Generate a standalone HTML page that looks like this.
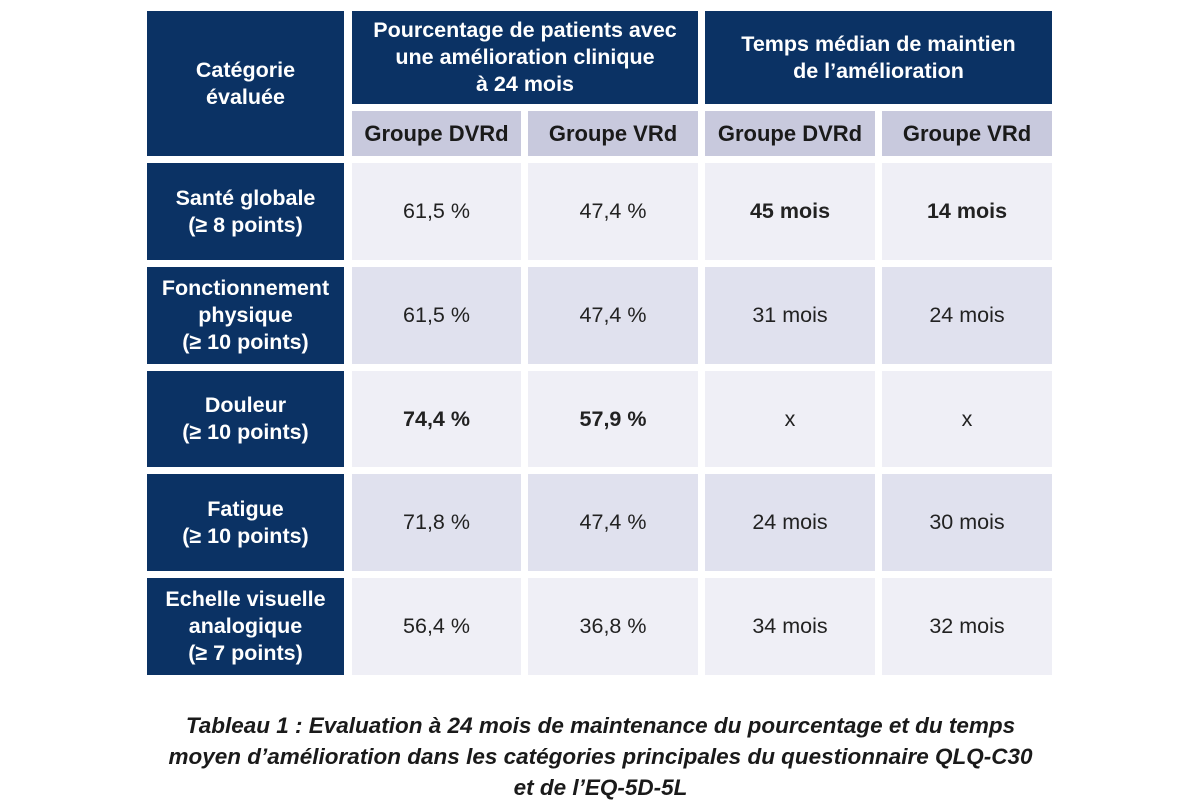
<!DOCTYPE html><html><head><meta charset="utf-8"><style>
body{margin:0;width:1201px;height:812px;background:#fff;position:relative;font-family:"Liberation Sans",sans-serif;overflow:hidden}
.c{position:absolute;display:flex;align-items:center;justify-content:center;text-align:center;box-sizing:border-box}
.d{background:#0b3264;color:#fff;font-weight:bold;font-size:21.5px;line-height:27px}
.s{background:#c8c9dd;color:#1a1a1a;font-weight:bold;font-size:22px}
.l{background:#efeff6;color:#222;font-size:21.5px}
.m{background:#e0e1ee;color:#222;font-size:21.5px}
.b{font-weight:bold}
.cap{position:absolute;left:0;width:1201px;top:710px;text-align:center;font-style:italic;font-weight:bold;font-size:22.5px;line-height:31px;color:#1a1a1a}
</style></head><body>
<div class="c d" style="left:147px;top:11px;width:197px;height:145px">Catégorie<br>évaluée</div>
<div class="c d" style="left:352px;top:11px;width:346px;height:93px">Pourcentage de patients avec<br>une amélioration clinique<br>à 24 mois</div>
<div class="c d" style="left:705px;top:11px;width:347px;height:93px">Temps médian de maintien<br>de l’amélioration</div>
<div class="c s" style="left:352px;top:111px;width:169px;height:45px">Groupe DVRd</div>
<div class="c s" style="left:528px;top:111px;width:170px;height:45px">Groupe VRd</div>
<div class="c s" style="left:705px;top:111px;width:170px;height:45px">Groupe DVRd</div>
<div class="c s" style="left:882px;top:111px;width:170px;height:45px">Groupe VRd</div>

<div class="c d" style="left:147px;top:163px;width:197px;height:97px">Santé globale<br>(≥ 8 points)</div>
<div class="c l" style="left:352px;top:163px;width:169px;height:97px">61,5 %</div>
<div class="c l" style="left:528px;top:163px;width:170px;height:97px">47,4 %</div>
<div class="c l b" style="left:705px;top:163px;width:170px;height:97px">45 mois</div>
<div class="c l b" style="left:882px;top:163px;width:170px;height:97px">14 mois</div>

<div class="c d" style="left:147px;top:267px;width:197px;height:97px">Fonctionnement<br>physique<br>(≥ 10 points)</div>
<div class="c m" style="left:352px;top:267px;width:169px;height:97px">61,5 %</div>
<div class="c m" style="left:528px;top:267px;width:170px;height:97px">47,4 %</div>
<div class="c m" style="left:705px;top:267px;width:170px;height:97px">31 mois</div>
<div class="c m" style="left:882px;top:267px;width:170px;height:97px">24 mois</div>

<div class="c d" style="left:147px;top:371px;width:197px;height:96px">Douleur<br>(≥ 10 points)</div>
<div class="c l b" style="left:352px;top:371px;width:169px;height:96px">74,4 %</div>
<div class="c l b" style="left:528px;top:371px;width:170px;height:96px">57,9 %</div>
<div class="c l" style="left:705px;top:371px;width:170px;height:96px">x</div>
<div class="c l" style="left:882px;top:371px;width:170px;height:96px">x</div>

<div class="c d" style="left:147px;top:474px;width:197px;height:97px">Fatigue<br>(≥ 10 points)</div>
<div class="c m" style="left:352px;top:474px;width:169px;height:97px">71,8 %</div>
<div class="c m" style="left:528px;top:474px;width:170px;height:97px">47,4 %</div>
<div class="c m" style="left:705px;top:474px;width:170px;height:97px">24 mois</div>
<div class="c m" style="left:882px;top:474px;width:170px;height:97px">30 mois</div>

<div class="c d" style="left:147px;top:578px;width:197px;height:97px">Echelle visuelle<br>analogique<br>(≥ 7 points)</div>
<div class="c l" style="left:352px;top:578px;width:169px;height:97px">56,4 %</div>
<div class="c l" style="left:528px;top:578px;width:170px;height:97px">36,8 %</div>
<div class="c l" style="left:705px;top:578px;width:170px;height:97px">34 mois</div>
<div class="c l" style="left:882px;top:578px;width:170px;height:97px">32 mois</div>

<div class="cap">Tableau 1 : Evaluation à 24 mois de maintenance du pourcentage et du temps<br>moyen d’amélioration dans les catégories principales du questionnaire QLQ-C30<br>et de l’EQ-5D-5L</div>
</body></html>
